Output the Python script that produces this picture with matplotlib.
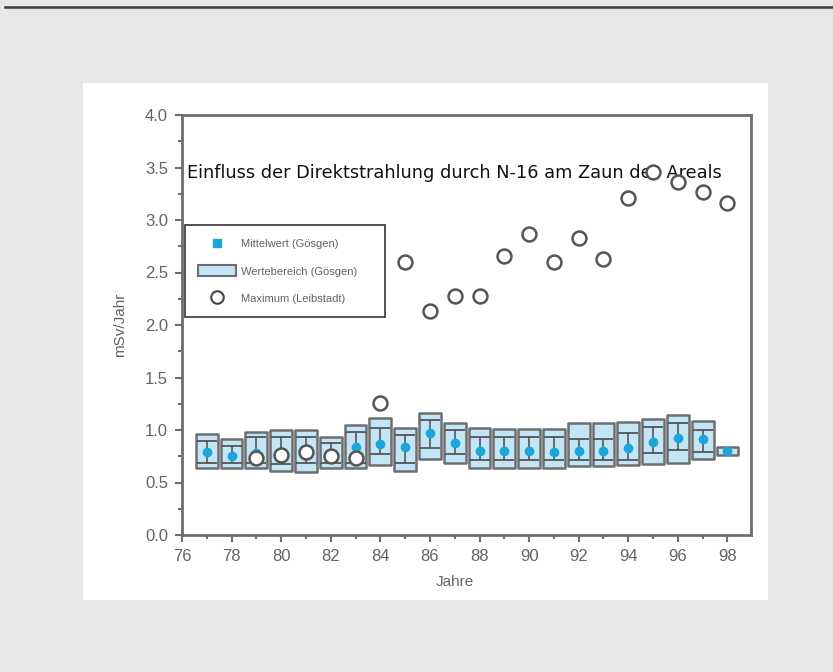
import numpy as np
import matplotlib
matplotlib.use("Agg")
import matplotlib.pyplot as plt
from matplotlib.lines import Line2D
from matplotlib.patches import Patch, Rectangle

plt.rcParams['font.family'] = ['Liberation Sans', 'DejaVu Sans']

# ---- data ----
years = np.arange(77, 99)
mean_goesgen = [0.79, 0.75, 0.78, 0.79, 0.78, 0.75, 0.84, 0.87, 0.84, 0.97, 0.88,
                0.80, 0.80, 0.80, 0.79, 0.80, 0.80, 0.83, 0.89, 0.92, 0.91, 0.80]
range_min = [0.64, 0.64, 0.64, 0.61, 0.60, 0.64, 0.64, 0.67, 0.61, 0.72, 0.69,
             0.64, 0.64, 0.64, 0.64, 0.66, 0.66, 0.67, 0.68, 0.69, 0.72, 0.76]
range_max = [0.96, 0.91, 0.98, 1.00, 1.00, 0.93, 1.05, 1.11, 1.02, 1.16, 1.07,
             1.02, 1.01, 1.01, 1.01, 1.07, 1.07, 1.08, 1.10, 1.14, 1.09, 0.84]
sd_low = [0.69, 0.69, 0.69, 0.68, 0.69, 0.69, 0.69, 0.77, 0.69, 0.83, 0.77,
          0.71, 0.71, 0.71, 0.71, 0.71, 0.71, 0.71, 0.78, 0.81, 0.79, np.nan]
sd_high = [0.90, 0.85, 0.93, 0.93, 0.93, 0.88, 0.98, 1.02, 0.95, 1.10, 1.00,
           0.93, 0.93, 0.93, 0.93, 0.91, 0.91, 0.97, 1.03, 1.07, 1.00, np.nan]
max_years = np.arange(79, 99)
max_leibstadt = [0.73, 0.76, 0.79, 0.75, 0.73, 1.26, 2.60, 2.13, 2.28, 2.28,
                 2.66, 2.87, 2.60, 2.83, 2.63, 3.21, 3.46, 3.36, 3.27, 3.16]
xticks = np.arange(76, 99, 2)
yticks = np.arange(0, 4.01, 0.5)

title = "Einfluss der Direktstrahlung durch N-16 am Zaun des Areals"
lab_mean = "Mittelwert (Gösgen)"
lab_range = "Wertebereich (Gösgen)"
lab_max = "Maximum (Leibstadt)"

# ---- styles ----
BG = '#e6e7e8'
GREY = '#6d6e70'
DARK = '#4a4a4a'
FILL = '#c3e5f5'
BLUE = '#1aa6da'
TXT = '#626365'

W, H = 833, 672
fig = plt.figure(figsize=(W / 100, H / 100), dpi=100, facecolor=BG)

# top rule and white panel
fig.add_artist(Line2D([5 / W, 1.0], [1 - 7 / H, 1 - 7 / H], color='#3a3a3a', lw=1.8,
                      transform=fig.transFigure))
fig.add_artist(Rectangle((83 / W, 1 - 600 / H), 685 / W, 517 / H, facecolor='white',
                         edgecolor='none', transform=fig.transFigure, zorder=0))

ax = fig.add_axes([182 / W, 1 - 535 / H, (751 - 182) / W, (535 - 115) / H])
ax.set_facecolor('white')

mean_a = np.array(mean_goesgen)
lo = np.array(sd_low)
hi = np.array(sd_high)

ax.bar(years, np.array(range_max) - np.array(range_min), bottom=range_min, width=0.88,
       color=FILL, edgecolor=GREY, linewidth=1.8, joinstyle='round', zorder=2)
ax.errorbar(years, mean_a, yerr=[mean_a - lo, hi - mean_a], fmt='none', ecolor=DARK,
            elinewidth=1.1, capsize=7.2, capthick=1.2, zorder=3)
ax.plot(years, mean_a, 'o', color=BLUE, markersize=7, markeredgewidth=0, zorder=4)
ax.plot(max_years, max_leibstadt, 'o', markerfacecolor='white', markeredgecolor='#555555',
        markeredgewidth=1.8, markersize=10, linestyle='none', zorder=5)

ax.set_xlim(76, 98.95)
ax.set_ylim(0, 4.0)
ax.set_xticks(xticks)
ax.set_xticklabels([str(t) for t in xticks])
ax.set_xticks(np.arange(77, 99, 2), minor=True)
ax.set_yticks(yticks)
ax.set_yticklabels([f"{t:.1f}" for t in yticks])
ax.set_yticks(np.arange(0.25, 4.0, 0.5), minor=True)

for s in ax.spines.values():
    s.set_color(GREY)
    s.set_linewidth(2)
ax.tick_params(which='major', direction='out', length=5, width=1.5, color=GREY,
               labelsize=12, labelcolor=TXT, pad=5)
ax.tick_params(which='minor', direction='out', length=3, width=1.5, color=GREY)

ax.set_xlabel("Jahre", fontsize=11, color=TXT)
ax.xaxis.set_label_coords((455 - 182) / 569, -0.095)
ax.set_ylabel("mSv/Jahr", fontsize=11, color=TXT)
ax.yaxis.set_label_coords(-0.097, 0.5)

ax.text(0.009, 0.862, title, transform=ax.transAxes, fontsize=12.8, color='#111111',
        ha='left', va='center', family='DejaVu Sans')

handles = [
    Line2D([], [], marker='s', color=BLUE, linestyle='none', markersize=6),
    Patch(facecolor=FILL, edgecolor=GREY, linewidth=1.5),
    Line2D([], [], marker='o', markerfacecolor='white', markeredgecolor='#444444',
           markeredgewidth=1.5, linestyle='none', markersize=9),
]
leg = ax.legend(handles, [lab_mean, lab_range, lab_max], loc='upper left',
                bbox_to_anchor=(0.005, 0.524, 0.352, 0.214), mode='expand',
                borderaxespad=0, fontsize=8, labelspacing=1.44,
                handlelength=3.4, handleheight=1.1, handletextpad=0.45, borderpad=1.2,
                fancybox=False, framealpha=1, edgecolor='#333333')
leg.get_frame().set_linewidth(1.2)
for t in leg.get_texts():
    t.set_color(TXT)

fig.savefig("out.png", dpi=100, facecolor=BG)
